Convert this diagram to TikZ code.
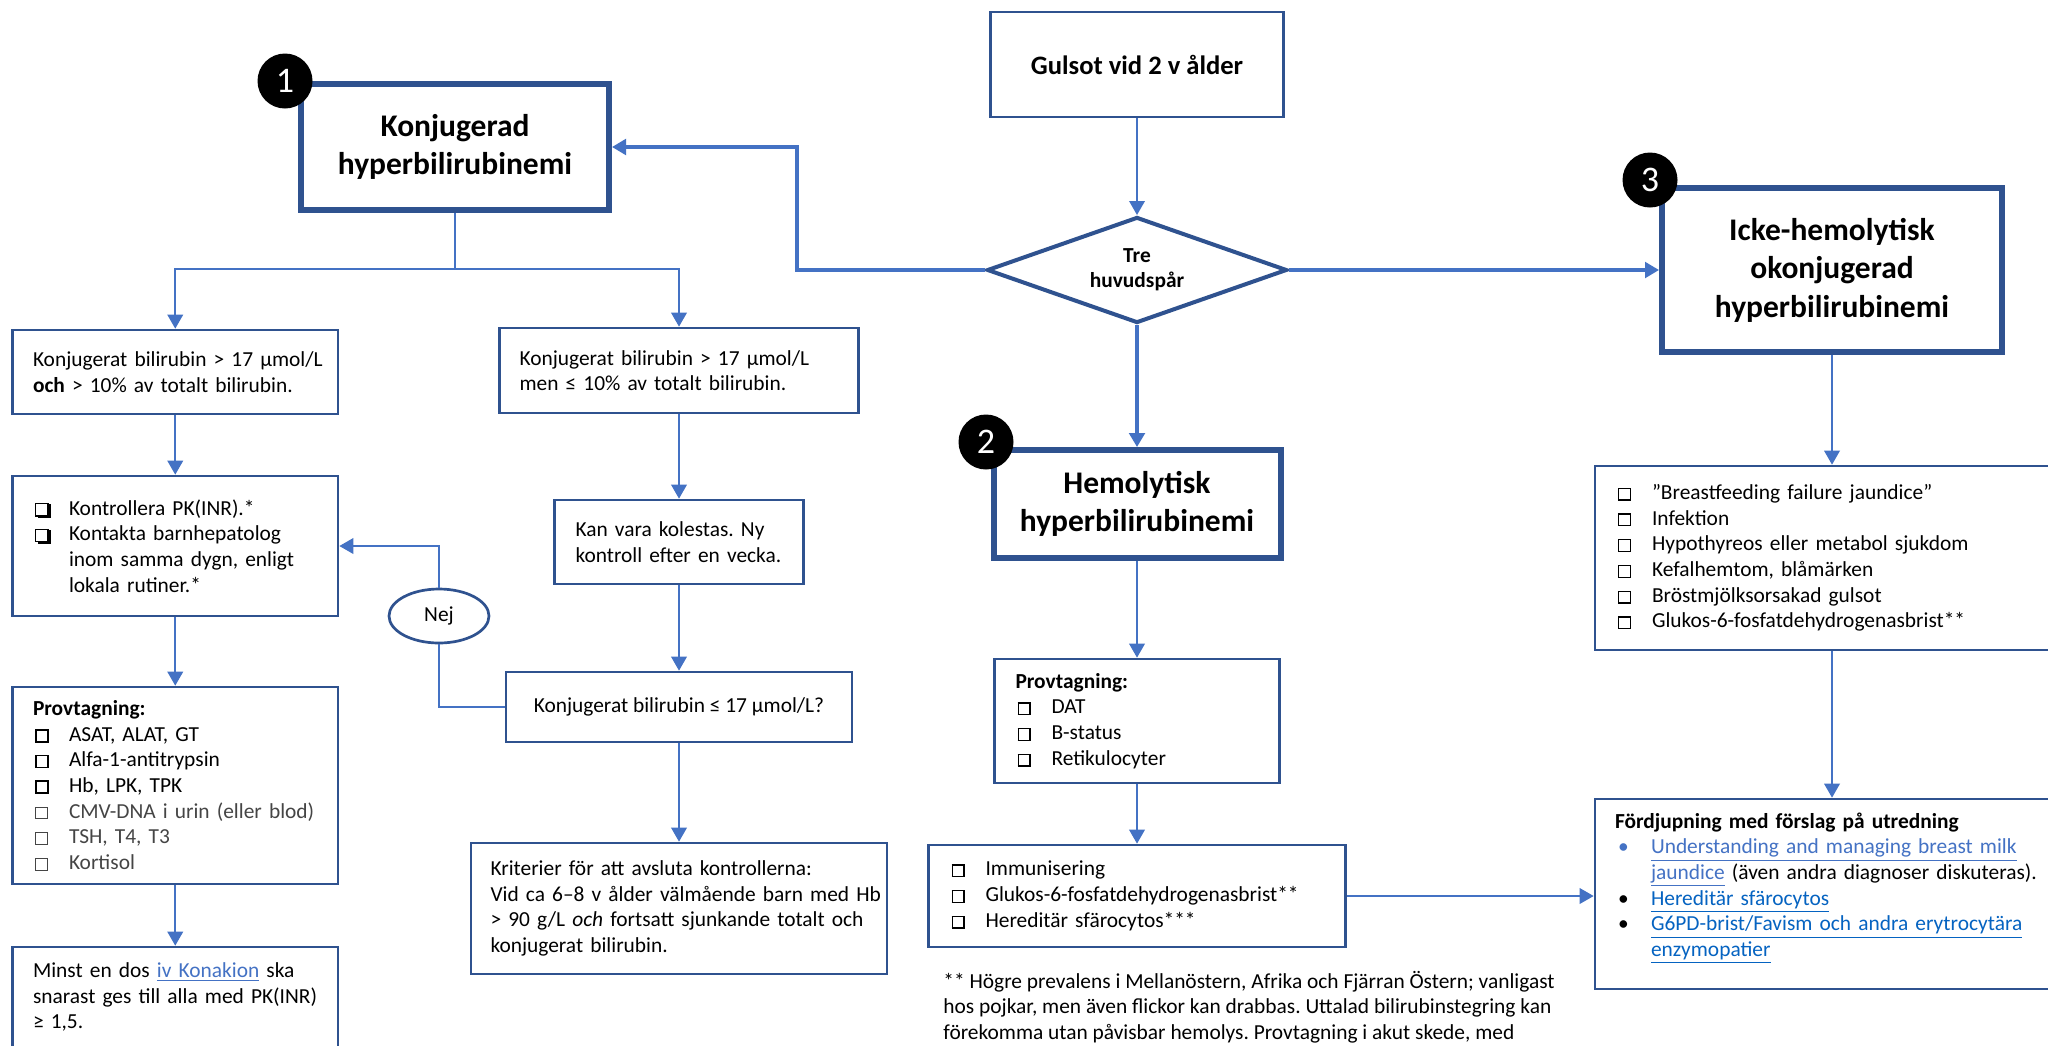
\documentclass[tikz,border=0pt]{standalone}
\usepackage{fontspec}
\setmainfont{Carlito}
\usetikzlibrary{shapes.geometric,arrows.meta}
\definecolor{boxblue}{HTML}{2F528F}
\definecolor{lineblue}{HTML}{4472C4}
\definecolor{linkblue}{HTML}{0563C1}
\definecolor{lightlink}{HTML}{4472C4}
\definecolor{graytxt}{HTML}{454545}
\frenchspacing
\newcommand\bodyfont{\fontsize{10.7}{12.85}\selectfont}
\newcommand\titlefont{\fontsize{15.75}{19.25}\selectfont\bfseries}
% plain ballot box
\newcommand\CB[2][black]{{\color{#1}\setlength\fboxsep{0pt}\setlength\fboxrule{#2}\fbox{\rule{0pt}{5.2pt}\rule{5.2pt}{0pt}}}}
% shadowed box
\newcommand\SB{\leavevmode\makebox[0pt][l]{\kern1.3pt\raisebox{-1.3pt}{\rule{6.8pt}{6.8pt}}}{\setlength\fboxsep{0pt}\setlength\fboxrule{0.7pt}\fcolorbox{black}{white}{\rule{0pt}{5.4pt}\rule{5.4pt}{0pt}}}}
\newcommand\CI[1]{\hspace*{1pt}\makebox[17pt][l]{#1}}
\newcommand\CT{\hspace*{18pt}}
\newcommand\BI[1]{\hspace*{1.5pt}\makebox[16.5pt][l]{#1}}
\newcommand\LK[2][linkblue]{\textcolor{#1}{\underline{#2}}}
\begin{document}
\begin{tikzpicture}[x=0.5pt,y=-0.5pt,
  box/.style={draw=boxblue, line width=1.35pt, fill=white, inner ysep=0pt, font=\bodyfont, align=left},
  thickbox/.style={draw=boxblue, line width=3pt, fill=white, inner sep=0pt, font=\titlefont, align=center},
  connline/.style={draw=lineblue, line width=0.85pt},
  conn/.style={connline, -{Triangle[length=7pt,width=7.8pt]}},
  thickconn/.style={conn, line width=1.6pt},
  badge/.style={circle, fill=black, text=white, minimum size=27.5pt, inner sep=0pt, font=\fontsize{18}{18}\selectfont}]
\clip (0,0) rectangle (2048,1045);
\fill[white] (0,0) rectangle (2048,1045);

% main title boxes
\node[box, line width=1.4pt, minimum width=146.5pt, minimum height=52.5pt, inner sep=0pt, align=center,
      font=\fontsize{13.3}{16}\selectfont\bfseries] (gul) at (1137,64.5) {Gulsot vid 2 v ålder};
\node[diamond, draw=boxblue, line width=2pt, fill=white, shape aspect=2.83, minimum width=150pt, minimum height=53pt,
      inner sep=0pt, align=center, font=\fontsize{10.7}{12.5}\selectfont\bfseries] (dia) at (1137,270) {Tre\\huvudspår};
\node[thickbox, minimum width=154pt, minimum height=63pt] (konj) at (455,147) {Konjugerad\\hyperbilirubinemi};
\node[thickbox, minimum width=170pt, minimum height=82pt] (icke) at (1832,270) {Icke-hemolytisk\\okonjugerad\\hyperbilirubinemi};
\node[thickbox, minimum width=143.5pt, minimum height=54pt] (hemo) at (1137,504) {Hemolytisk\\hyperbilirubinemi};

% branch 1, left column
\node[box, minimum width=162.75pt, minimum height=42pt, inner xsep=10.25pt, text width=142.25pt] (boxA) at (175.25,372)
  {\mbox{Konjugerat bilirubin > 17 µmol/L}\\\textbf{och} > 10\% av totalt bilirubin.};
\node[box, minimum width=162.75pt, minimum height=70pt, inner xsep=10.25pt, text width=142.25pt] (boxC) at (175.25,546)
  {\CI{\SB}Kontrollera PK(INR).*\\\CI{\SB}Kontakta barnhepatolog\\\CT inom samma dygn, enligt\\\CT lokala rutiner.*};
\node[box, minimum width=162.75pt, minimum height=98.5pt, inner xsep=10.25pt, text width=142.25pt] (boxD) at (175.25,785.5)
  {\textbf{Provtagning:}\\
   \CI{\CB{0.85pt}}ASAT, ALAT, GT\\
   \CI{\CB{0.85pt}}Alfa-1-antitrypsin\\
   \CI{\CB{0.85pt}}Hb, LPK, TPK\\
   \textcolor{graytxt}{\CI{\CB[graytxt]{0.6pt}}CMV-DNA i urin (eller blod)}\\
   \textcolor{graytxt}{\CI{\CB[graytxt]{0.6pt}}TSH, T4, T3}\\
   \textcolor{graytxt}{\CI{\CB[graytxt]{0.6pt}}Kortisol}};
\node[box, minimum width=162.75pt, minimum height=50pt, inner xsep=10.25pt, text width=142.25pt] (boxE) at (175.25,997)
  {Minst en dos \LK[lightlink]{iv Konakion} ska\\snarast ges till alla med PK(INR)\\≥ 1,5.};

% branch 1, right column
\node[box, minimum width=179.5pt, minimum height=42.5pt, inner xsep=10pt, text width=159.5pt] (boxB) at (679,370.5)
  {Konjugerat bilirubin > 17 µmol/L\\men ≤ 10\% av totalt bilirubin.};
\node[box, minimum width=124.5pt, minimum height=42pt, inner xsep=10.5pt, text width=103.5pt] (boxF) at (679,542)
  {\mbox{Kan vara kolestas. Ny}\\\mbox{kontroll efter en vecka.}};
\node[box, minimum width=173pt, minimum height=35pt, inner sep=0pt, align=center] (boxG) at (679,707)
  {Konjugerat bilirubin ≤ 17 µmol/L?};
\node[box, minimum width=208pt, minimum height=65.5pt, inner xsep=9.75pt, text width=188.5pt] (boxH) at (679,908.5)
  {\mbox{Kriterier för att avsluta kontrollerna:}\\\mbox{Vid ca 6–8 v ålder välmående barn med Hb}\\\mbox{> 90 g/L \textit{och} fortsatt sjunkande totalt och}\\konjugerat bilirubin.};
\node[ellipse, draw=boxblue, line width=1.35pt, fill=white, minimum width=50pt, minimum height=27pt, inner sep=0pt,
      font=\bodyfont] (nej) at (439,616) {Nej};

% branch 2
\node[box, minimum width=142.5pt, minimum height=62pt, inner xsep=10.5pt, text width=121.5pt] (boxI) at (1137,721)
  {\textbf{Provtagning:}\\\CI{\CB{0.65pt}}DAT\\\CI{\CB{0.65pt}}B-status\\\CI{\CB{0.65pt}}Retikulocyter};
\node[box, minimum width=208.5pt, minimum height=51pt, inner xsep=10.5pt, text width=187.5pt] (boxJ) at (1137,896)
  {\CI{\CB{0.65pt}}Immunisering\\\CI{\CB{0.65pt}}Glukos-6-fosfatdehydrogenasbrist**\\\CI{\CB{0.65pt}}Hereditär sfärocytos***};
\node[anchor=west, align=left, inner sep=0pt, font=\bodyfont] (fn) at (943,1007)
  {** Högre prevalens i Mellanöstern, Afrika och Fjärran Östern; vanligast\\
   hos pojkar, men även flickor kan drabbas. Uttalad bilirubinstegring kan\\
   förekomma utan påvisbar hemolys. Provtagning i akut skede, med};

% branch 3
\node[box, minimum width=237pt, minimum height=92pt, inner xsep=10.5pt, text width=216pt] (boxL) at (1832,558)
  {\CI{\CB{0.65pt}}”Breastfeeding failure jaundice”\\
   \CI{\CB{0.65pt}}Infektion\\
   \CI{\CB{0.65pt}}Hypothyreos eller metabol sjukdom\\
   \CI{\CB{0.65pt}}Kefalhemtom, blåmärken\\
   \CI{\CB{0.65pt}}Bröstmjölksorsakad gulsot\\
   \CI{\CB{0.65pt}}Glukos-6-fosfatdehydrogenasbrist**};
\node[box, minimum width=237pt, minimum height=95pt, inner xsep=10pt, text width=217pt] (boxK) at (1832,894)
  {\textbf{Fördjupning med förslag på utredning}\\
   \BI{\textcolor{lightlink}{•}}\LK[lightlink]{Understanding and managing breast milk}\\
   \CT\LK[lightlink]{jaundice} (även andra diagnoser diskuteras).\\
   \BI{•}\LK{Hereditär sfärocytos}\\
   \BI{•}\LK{G6PD-brist/Favism och andra erytrocytära}\\
   \CT\LK{enzymopatier}\\[-3.35pt]\mbox{}};

% badges
\node[badge] (b1) at (285,81) {1};
\node[badge] (b2) at (986,442) {2};
\node[badge] (b3) at (1650,180) {3};

% connectors
\coordinate (kc) at (797,147);
\coordinate (ks) at (455,269);
\draw[conn] (gul) -- (dia);
\draw[thickconn] (dia.west) -| (kc) -- (konj.east);
\draw[thickconn] (dia.east) -- (icke.west);
\draw[thickconn] (dia.south) -- (hemo.north);
\draw[connline] (konj.south) -- (ks);
\draw[conn] (ks) -| (boxA.north);
\draw[conn] (ks) -| (boxB.north);
\draw[conn] (boxA) -- (boxC);
\draw[conn] (boxC) -- (boxD);
\draw[conn] (boxD) -- (boxE);
\draw[conn] (boxB) -- (boxF);
\draw[conn] (boxF) -- (boxG);
\draw[conn] (boxG) -- (boxH);
\draw[connline] (boxG.west) -| (nej.south);
\draw[conn] (nej.north) |- (boxC.east);
\draw[conn] (hemo) -- (boxI);
\draw[conn] (boxI) -- (boxJ);
\draw[conn] (boxJ.east) -- (boxJ.east -| boxK.west);
\draw[conn] (icke) -- (boxL);
\draw[conn] (boxL) -- (boxK);
\end{tikzpicture}
\end{document}
